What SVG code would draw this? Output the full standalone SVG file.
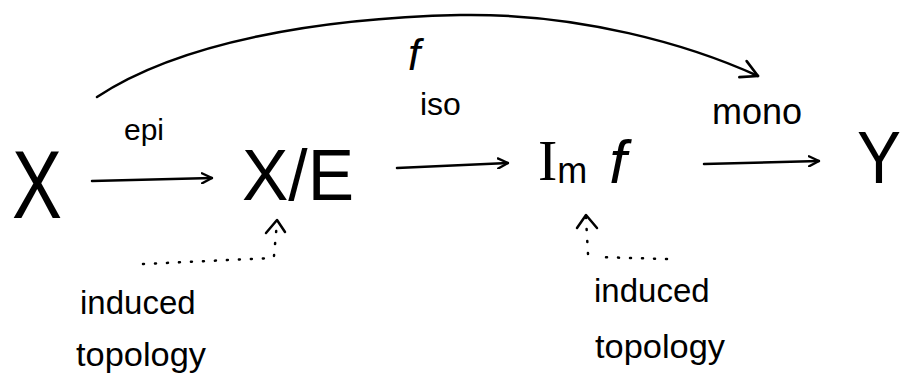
<svg xmlns="http://www.w3.org/2000/svg" width="908" height="381" viewBox="0 0 908 381">
<defs>
<marker id="head" viewBox="0 0 12 12" refX="11" refY="6" markerWidth="12" markerHeight="12" markerUnits="userSpaceOnUse" orient="auto">
<path d="M1,1 L11,6 L1,11" fill="none" stroke="#000" stroke-width="2.4" stroke-linecap="round" stroke-linejoin="round"/>
</marker>
<marker id="headBig" viewBox="0 0 20 20" refX="18" refY="10" markerWidth="22" markerHeight="22" markerUnits="userSpaceOnUse" orient="auto">
<path d="M3,2 L18,10 L3,18" fill="none" stroke="#000" stroke-width="2.4" stroke-linecap="round" stroke-linejoin="round"/>
</marker>
</defs>
<style>
.big{font-family:"Liberation Sans",Arial,sans-serif;fill:#000}
.lbl{font-family:"Liberation Sans",Arial,sans-serif;fill:#000}
.edge{fill:none;stroke:#000;stroke-width:2.5;stroke-linecap:round}
.dot{fill:none;stroke:#000;stroke-width:2.5;stroke-linecap:round;stroke-dasharray:1 11}
</style>
<rect width="908" height="381" fill="#fff"/>
<g id="node-X"><text class="big" x="12" y="218" font-size="96" textLength="50" lengthAdjust="spacingAndGlyphs">X</text></g>
<g id="node-XE"><text class="big" x="242" y="200" font-size="72" textLength="112" lengthAdjust="spacingAndGlyphs">X/E</text></g>
<g id="node-Imf"><text class="big" x="538" y="180" font-size="56"><tspan font-family="Liberation Serif, serif" font-size="58">I</tspan><tspan font-size="36" dy="3">m</tspan><tspan font-size="62" dx="22" dy="0" font-style="italic">f</tspan></text></g>
<g id="node-Y"><text class="big" x="857" y="183" font-size="74" textLength="44" lengthAdjust="spacingAndGlyphs">Y</text></g>
<g id="note-left"><text class="lbl" x="80" y="314" font-size="33">induced</text><text class="lbl" x="76" y="366" font-size="33" textLength="130" lengthAdjust="spacingAndGlyphs">topology</text></g>
<g id="note-right"><text class="lbl" x="594" y="302" font-size="33">induced</text><text class="lbl" x="595" y="358" font-size="33" textLength="130" lengthAdjust="spacingAndGlyphs">topology</text></g>
<g id="connectors">
<path class="edge" d="M92,181 L212,178" marker-end="url(#head)"/>
<text class="lbl" x="124" y="140" font-size="30">epi</text>
<path class="edge" d="M397,168 L508,163" marker-end="url(#head)"/>
<text class="lbl" x="420" y="115" font-size="32">iso</text>
<path class="edge" d="M704,164 L819,161" marker-end="url(#head)"/>
<text class="lbl" x="712" y="124" font-size="36">mono</text>
<path class="edge" d="M97,97 C180,42 320,18 460,15 C580,13 690,45 758,76" marker-end="url(#headBig)"/>
<text class="lbl" x="408" y="70" font-size="44" font-style="italic">f</text>
<path class="dot" d="M143,264 L272,258"/>
<path class="dot" d="M274,256 L277,222" stroke-dasharray="5 5"/>
<path class="edge" d="M266,233 L277,220 L285,232" stroke-linejoin="round"/>
<path class="dot" d="M667,259 L596,257"/>
<path class="dot" d="M588,254 L586,218" stroke-dasharray="5 5"/>
<path class="edge" d="M577,228 L586,215 L597,228" stroke-linejoin="round"/>
</g>
</svg>
